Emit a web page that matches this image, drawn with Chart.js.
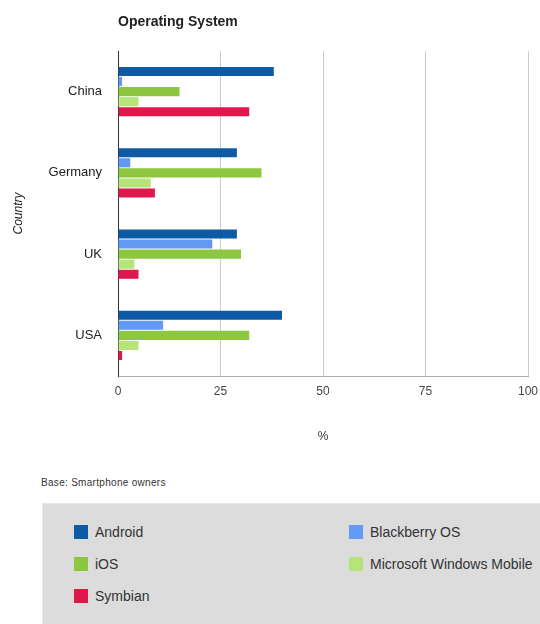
<!DOCTYPE html>
<html>
<head>
<meta charset="utf-8">
<script src="https://cdn.jsdelivr.net/npm/chart.js@4"></script>
<style>
  body { margin: 0; background: #fff; font-family: "Liberation Sans", Arial, sans-serif; }
  #wrap { position: relative; width: 540px; height: 624px; overflow: hidden; }
  #titulo { position: absolute; left: 118px; top: 13px; font-size: 14px; font-weight: bold; color: #222; }
  #grafico { position: absolute; left: 0; top: 0; }
  #base { position: absolute; left: 41px; top: 477px; font-size: 10px; letter-spacing: 0.3px; color: #333; }
  #legenda { position: absolute; left: 42px; top: 503px; width: 498px; height: 121px; background: #dcdcdc; border-left: 1px solid #e6e6e6; border-top: 1px solid #e6e6e6; box-sizing: border-box; }
  .item { position: absolute; font-size: 14px; color: #333; line-height: 14px; }
  .item span { position: absolute; left: 0; top: 0; width: 14px; height: 14px; }
  .item b { font-weight: normal; position: absolute; left: 21px; top: 0; white-space: nowrap; }
</style>
</head>
<body>
<div id="wrap">
  <canvas id="grafico" width="540" height="446"></canvas>
  <div id="titulo">Operating System</div>
  <div id="base">Base: Smartphone owners</div>
  <div id="legenda"></div>
</div>
<script>
// dados
var paises = ['China', 'Germany', 'UK', 'USA'];
var android = [38, 29, 29, 40];
var blackberry = [1, 3, 23, 11];
var ios = [15, 35, 30, 32];
var windowsMobile = [5, 8, 4, 5];
var symbian = [32, 9, 5, 1];
var ticksX = [0, 25, 50, 75, 100];

var series = [
  { label: 'Android', data: android, cor: '#0f5aa5' },
  { label: 'Blackberry OS', data: blackberry, cor: '#6199f4' },
  { label: 'iOS', data: ios, cor: '#8dc63f' },
  { label: 'Microsoft Windows Mobile', data: windowsMobile, cor: '#b5e478' },
  { label: 'Symbian', data: symbian, cor: '#e0174d' }
];

var ctx = document.getElementById('grafico').getContext('2d');
var grafico = new Chart(ctx, {
  type: 'bar',
  data: {
    labels: paises,
    datasets: series.map(function(s) {
      return { label: s.label, data: s.data, backgroundColor: s.cor, borderWidth: 0,
               barPercentage: 0.9, categoryPercentage: 0.62 };
    })
  },
  options: {
    indexAxis: 'y',
    responsive: false,
    animation: false,
    layout: { padding: { top: 51, right: 0, left: 0, bottom: 0 } },
    plugins: { legend: { display: false }, tooltip: { enabled: false } },
    scales: {
      x: {
        min: 0, max: 100,
        afterBuildTicks: function(scale) {
          scale.ticks = ticksX.map(function(v) { return { value: v }; });
        },
        afterFit: function(scale) {
          scale.height = 70;
          scale.paddingRight = 12;
          scale.paddingLeft = 0;
        },
        grid: {
          drawTicks: false,
          color: function(c) { return c.index === 0 ? '#333' : '#cccccc'; }
        },
        border: { color: '#aaaaaa' },
        ticks: { padding: 8, color: '#444', font: { family: 'Liberation Sans', size: 12 } },
        title: { display: true, text: '%', color: '#333',
                 font: { family: 'Liberation Sans', size: 12 }, padding: { top: 0, bottom: 2 } }
      },
      y: {
        afterFit: function(scale) { scale.width = 118; },
        grid: { display: false, drawTicks: false },
        border: { color: '#333' },
        ticks: { padding: 16, color: '#222', font: { family: 'Liberation Sans', size: 13 } },
        title: { display: true, text: 'Country', color: '#222',
                 font: { family: 'Liberation Sans', size: 12, style: 'italic' }, padding: { top: 11, bottom: 0 } }
      }
    }
  }
});

// legenda em duas colunas
var posicoes = [[31, 21], [306, 21], [31, 53], [306, 53], [31, 85]];
var leg = document.getElementById('legenda');
series.forEach(function(s, i) {
  var d = document.createElement('div');
  d.className = 'item';
  d.style.left = posicoes[i][0] + 'px';
  d.style.top = posicoes[i][1] + 'px';
  d.innerHTML = '<span style="background:' + s.cor + '"></span><b>' + s.label + '</b>';
  leg.appendChild(d);
});
</script>
</body>
</html>
